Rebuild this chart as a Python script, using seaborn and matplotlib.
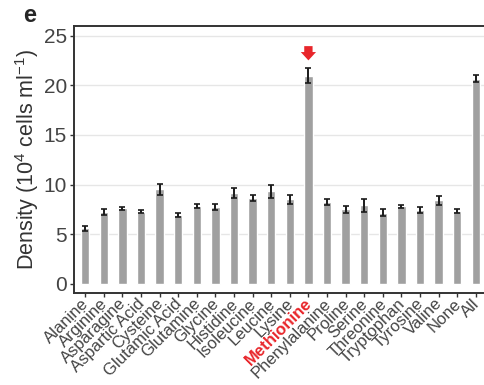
import numpy as np
import pandas as pd
import matplotlib
matplotlib.use('Agg')
import matplotlib.pyplot as plt
import matplotlib.transforms as mtransforms
import seaborn as sns

amino_acids = ['Alanine', 'Arginine', 'Asparagine', 'Aspartic Acid', 'Cysteine',
               'Glutamic Acid', 'Glutamine', 'Glycine', 'Histidine', 'Isoleucine',
               'Leucine', 'Lysine', 'Methionine', 'Phenylalanine', 'Proline',
               'Serine', 'Threonine', 'Tryptophan', 'Tyrosine', 'Valine', 'None', 'All']
density = [5.6, 7.2, 7.6, 7.25, 9.5, 6.9, 7.8, 7.75, 9.1, 8.6,
           9.3, 8.5, 21.0, 8.25, 7.5, 7.9, 7.15, 7.8, 7.4, 8.4, 7.35, 20.7]
density_se = [0.25, 0.3, 0.15, 0.15, 0.55, 0.2, 0.2, 0.3, 0.5, 0.3,
              0.7, 0.45, 0.75, 0.3, 0.35, 0.65, 0.35, 0.15, 0.3, 0.45, 0.2, 0.4]
highlight = 'Methionine'

df = pd.DataFrame({'aa': amino_acids, 'density': density, 'se': density_se})

sns.set_style('white')
plt.rcParams['font.family'] = ['Liberation Sans', 'DejaVu Sans']

fig = plt.figure(figsize=(4.84, 3.85), dpi=100)
ax = fig.add_axes([74 / 484, 92 / 385, 413 / 484, 267 / 385])

for yv in [5, 10, 15, 20, 25]:
    ax.axhline(yv, color='#e6e6e6', lw=1.0, zorder=0)

sns.barplot(data=df, x='aa', y='density', order=amino_acids, color='#a0a0a0',
            saturation=1, width=0.45, errorbar=None, ax=ax, zorder=2)
ax.errorbar(np.arange(len(df)), df['density'], yerr=df['se'], fmt='none',
            ecolor='#1a1a1a', elinewidth=1.4, capsize=2, capthick=1.2, zorder=3)

# red arrow above the highlighted bar
hi = amino_acids.index(highlight)
top = density[hi] + density_se[hi]
ax.annotate('', xy=(hi, top + 0.5), xytext=(hi, top + 2.5),
            arrowprops=dict(arrowstyle='simple,head_width=1.1,head_length=0.6,tail_width=0.6',
                            color='#e8262b', lw=0), zorder=4)

ax.set_xlim(-0.6, len(amino_acids) - 0.4)
ax.set_ylim(-0.95, 26.0)
ax.set_yticks([0, 5, 10, 15, 20, 25])
ax.set_xlabel('')
ax.set_ylabel(r'Density (10$^{\mathregular{4}}$ cells ml$^{\mathregular{-1}}$)',
              fontsize=15.5, color='#333333', labelpad=2)

ax.set_xticks(np.arange(len(amino_acids)))
ax.tick_params(axis='y', labelsize=15, labelcolor='#444444', length=3, width=1,
               color='#333333', pad=2, left=True)
ax.tick_params(axis='x', length=3, width=1, color='#333333', pad=2, bottom=True,
               labelbottom=False)

# rotated category labels, nudged a little so the last one stays inside the figure
shift = mtransforms.ScaledTranslation(-4 / 100, -3 / 100, fig.dpi_scale_trans)
for i, name in enumerate(amino_acids):
    is_hi = name == highlight
    ax.text(i, 0, name, transform=ax.get_xaxis_transform() + shift,
            rotation=45, ha='right', va='top', rotation_mode='anchor',
            fontsize=12, color='#e8262b' if is_hi else '#444444',
            fontweight='bold' if is_hi else 'normal', clip_on=False)

for sp in ax.spines.values():
    sp.set_color('#333333')
    sp.set_linewidth(1.4)
ax.spines['right'].set_visible(False)

fig.text(30 / 484, 1 - 15 / 385, 'e', fontsize=17, fontweight='bold',
         ha='center', va='center')

fig.savefig('out.png', dpi=100)
